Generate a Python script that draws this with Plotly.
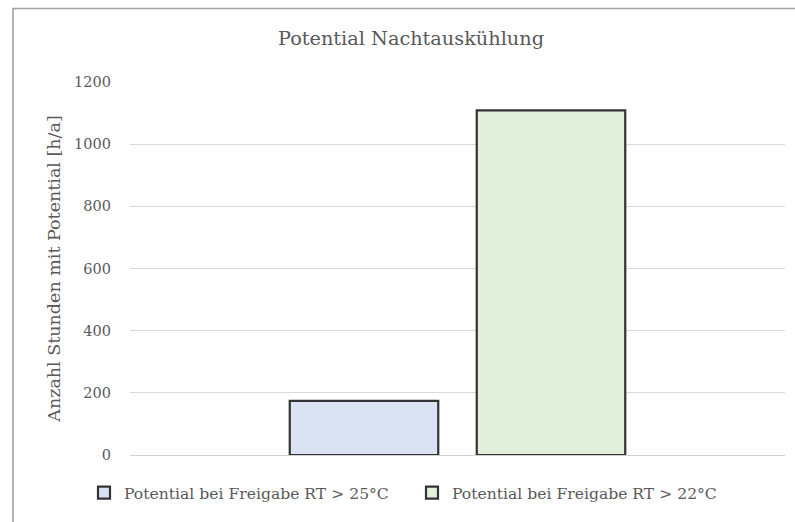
import plotly.graph_objects as go

# Data
category = ["Nachtauskühlung"]
series_names = [
    "Potential bei Freigabe RT > 25°C",
    "Potential bei Freigabe RT > 22°C",
]
series_values = [
    [174],
    [1109],
]
series_colors = ["#dae3f3", "#e2efda"]
y_ticks = [0, 200, 400, 600, 800, 1000, 1200]

W, H = 795, 522
M_L, M_R, M_T, M_B = 130, 10, 82, 67
PW, PH = W - M_L - M_R, H - M_T - M_B


def px_x(px):
    return (px - M_L) / PW


def px_y(py):
    return (H - M_B - py) / PH


FONT = "DejaVu Serif"
TXT = "#595959"

fig = go.Figure()
for name, vals, col in zip(series_names, series_values, series_colors):
    fig.add_trace(go.Bar(
        x=category, y=vals, name=name,
        marker=dict(color=col, line=dict(color="#333333", width=2.2)),
    ))

fig.update_layout(
    width=W, height=H,
    margin=dict(l=M_L, r=M_R, t=M_T, b=M_B, autoexpand=False),
    paper_bgcolor="white", plot_bgcolor="white",
    barmode="group", bargap=0.429, bargroupgap=0.206,
    font=dict(family=FONT, color=TXT, size=14),
    title=dict(
        text="Potential Nachtauskühlung",
        font=dict(family=FONT, size=19.3, color=TXT),
        x=411 / W, xref="container", xanchor="center",
        y=1 - 38 / H, yref="container", yanchor="middle",
    ),
    xaxis=dict(showticklabels=False, showgrid=False, zeroline=False,
               showline=False, ticks=""),
    yaxis=dict(
        range=[0, 1200], tickvals=y_ticks, ticktext=[str(v) for v in y_ticks],
        showgrid=True, gridcolor="#d9d9d9", gridwidth=1,
        zeroline=True, zerolinecolor="#d0d0d0", zerolinewidth=1.2,
        showline=False, ticks="", ticklabelstandoff=18,
        tickfont=dict(family=FONT, size=14.5, color=TXT),
        title=dict(text="Anzahl Stunden mit Potential [h/a]",
                   font=dict(family=FONT, size=17.5, color=TXT), standoff=8),
        automargin=False,
    ),
    legend=dict(
        orientation="h", x=px_x(84), xanchor="left",
        y=px_y(493), yanchor="middle",
        font=dict(family=FONT, size=15.6, color=TXT),
        entrywidth=283, entrywidthmode="pixels",
        bgcolor="rgba(0,0,0,0)",
    ),
    showlegend=True,
)

# Chart frame (top and left edges visible)
fig.add_shape(type="rect", xref="paper", yref="paper",
              x0=px_x(13), x1=px_x(W + 20), y0=px_y(H + 20), y1=px_y(8.5),
              line=dict(color="#a0a0a0", width=1.6), fillcolor="rgba(0,0,0,0)",
              layer="below")

fig.write_html("out.html")
